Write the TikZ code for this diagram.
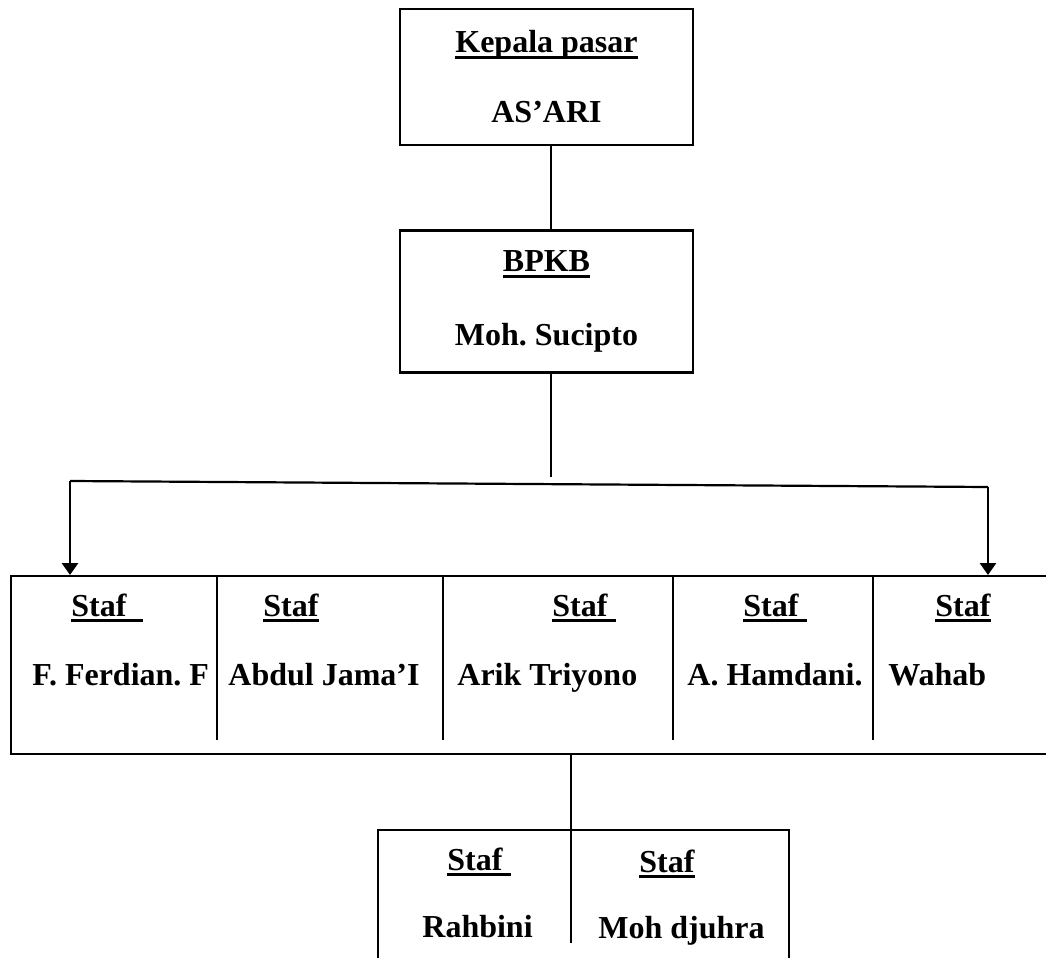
\documentclass[tikz,border=0pt]{standalone}
\usepackage{fontspec}
\setmainfont{Liberation Serif}
\usetikzlibrary{positioning,arrows.meta}
\frenchspacing
\newcommand{\garis}[1]{\setbox0\hbox{#1}\rlap{\rule[-3.1pt]{\wd0}{1.4pt}}\box0}
\tikzstyle{kotak} = [rectangle, draw, line width=1.2pt, align=center, minimum width=146.5pt, font=\fontsize{16}{19}\selectfont\bfseries]
\tikzstyle{baris} = [rectangle, draw, line width=1.2pt, anchor=north west]
\tikzstyle{teks} = [inner sep=0pt, anchor=base west, font=\fontsize{16}{19}\selectfont\bfseries]
\tikzstyle{garisan} = [draw, line width=1.1pt]
\tikzstyle{panah} = [draw, line width=1.4pt, -{Triangle[width=8pt,length=6pt]}]

\begin{document}
\begin{tikzpicture}[x=0.5pt, y=-0.5pt]
\useasboundingbox (0,0) rectangle (1046,958);

% kepala pasar dan BPKB
\node[kotak, minimum height=68pt] (kepala) at (546.5,77) {\garis{Kepala pasar}\\[16pt]AS'ARI};
\node[kotak, minimum height=71pt, below=41.5pt of kepala] (bpkb) {\garis{BPKB}\\[18pt]Moh. Sucipto};

% baris staf
\node[baris, minimum width=530pt, minimum height=89pt] (staf) at (10,575) {};
\foreach \x in {217,443,673,873}
  \draw[line width=1.1pt] (\x,575) -- (\x,740);

\node[teks] (staf1) at (71,616) {\garis{Staf~~}};
\node[teks] (staf2) at (263,616) {\garis{Staf}};
\node[teks] (staf3) at (552,616) {\garis{Staf~}};
\node[teks] (staf4) at (743,616) {\garis{Staf~}};
\node[teks] (staf5) at (935,616) {\garis{Staf}};
\node[teks] (ferdian) at (32,685) {F. Ferdian. F};
\node[teks] (abdul) at (228,685) {Abdul Jama'I};
\node[teks] (arik) at (457,685) {Arik Triyono};
\node[teks] (hamdani) at (687,685) {A. Hamdani.};
\node[teks] (wahab) at (888,685) {Wahab};

% staf bawah
\node[baris, minimum width=205.5pt, minimum height=80pt] (bawah) at (377,829) {};
\node[teks] (staf6) at (447,870) {\garis{Staf~}};
\node[teks] (staf7) at (639,872) {\garis{Staf}};
\node[teks] (rahbini) at (422,937) {Rahbini};
\node[teks] (djuhra) at (598,938) {Moh djuhra};

% garis
\coordinate (ujung) at (551,477);
\coordinate (kiri) at (70,481);
\coordinate (kanan) at (988,487);
\coordinate (pisah) at (571,943);

\path[garisan] (kepala.south -| ujung) -- (bpkb.north -| ujung);
\path[garisan] (bpkb.south -| ujung) -- (ujung);
\path[garisan] (kiri) -- (kanan);
\path[panah] (kiri) -- (kiri |- staf.north);
\path[panah] (kanan) -- (kanan |- staf.north);
\path[garisan] (staf.south -| pisah) -- (pisah);

\end{tikzpicture}
\end{document}
